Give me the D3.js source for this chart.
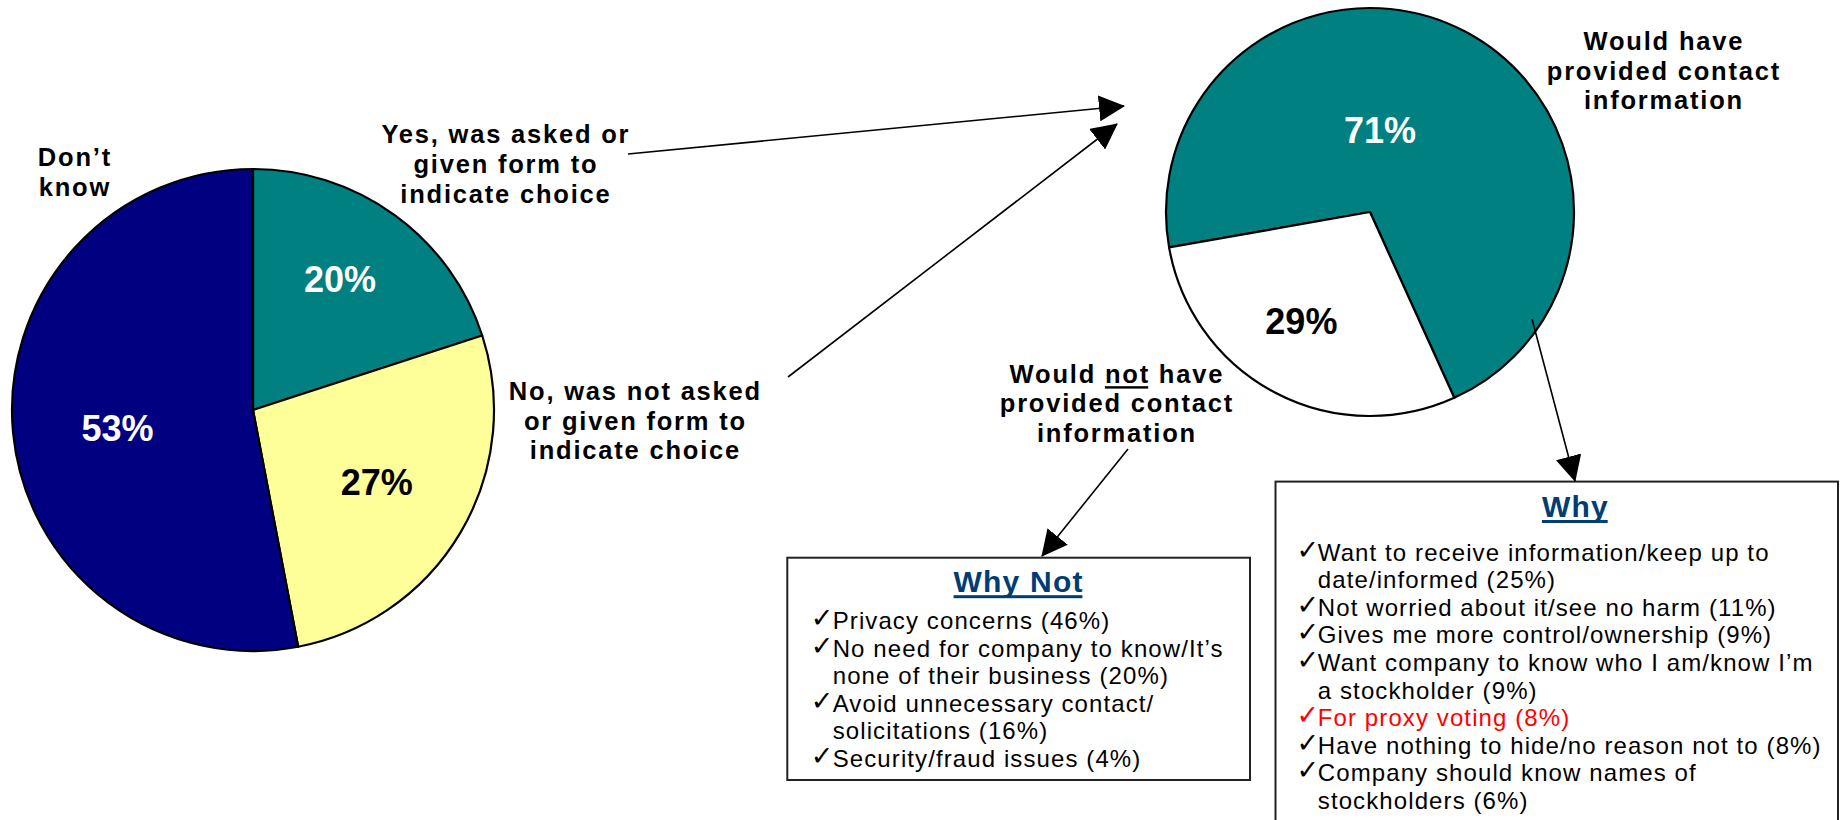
<!DOCTYPE html>
<html>
<head>
<meta charset="utf-8">
<script src="https://cdn.jsdelivr.net/npm/d3@7"></script>
<style>
  html, body { margin: 0; padding: 0; background: #fff; }
  svg { display: block; }
</style>
</head>
<body>
<svg id="chart" width="1845" height="820"></svg>
<script>
// Were shareholders asked (or given a form) to indicate their choice?
const askedCategories = [
  "Yes, was asked or\ngiven form to\nindicate choice",
  "No, was not asked\nor given form to\nindicate choice",
  "Don\u2019t\nknow"
];
const askedValues = [20, 27, 53];
const askedColors = ["#008080", "#FFFF99", "#000080"];
const askedLabelColors = ["#ffffff", "#000000", "#ffffff"];

// Would they have provided contact information?
const provideCategories = [
  "Would have\nprovided contact\ninformation",
  "Would not have\nprovided contact\ninformation"
];
const provideValues = [71, 29];
const provideColors = ["#008080", "#ffffff"];
const provideLabelColors = ["#ffffff", "#000000"];

// Reasons for not providing contact information
const whyNotReasons = [
  "Privacy concerns",
  "No need for company to know/It\u2019s\nnone of their business",
  "Avoid unnecessary contact/\nsolicitations",
  "Security/fraud issues"
];
const whyNotValues = [46, 20, 16, 4];

// Reasons for providing contact information
const whyReasons = [
  "Want to receive information/keep up to\ndate/informed",
  "Not worried about it/see no harm",
  "Gives me more control/ownership",
  "Want company to know who I am/know I\u2019m\na stockholder",
  "For proxy voting",
  "Have nothing to hide/no reason not to",
  "Company should know names of\nstockholders"
];
const whyValues = [25, 11, 9, 9, 8, 8, 6];
const whyHighlight = "For proxy voting";

// ---- layout ----
const FONT = '"Liberation Sans", Arial, Helvetica, sans-serif';
const deg = Math.PI / 180;

const layout = {
  leftPie:  { cx: 253, cy: 410, r: 241, start: 0,
              label: [[0.653, -2.4], [0.594, -0.4], [0.567, -2.1]] },
  rightPie: { cx: 1370, cy: 212, r: 204, start: -100,
              label: [[0.403, -20.8], [0.633, 4.3]] },
  askedLabels: [
    { x: 505, y: 143.3 },
    { x: 634.5, y: 400 },
    { x: 74, y: 166 }
  ],
  provideLabels: [
    { x: 1663, y: 50 },
    { x: 1116, y: 382.7, emphasis: "not" }
  ],
  labelStep: 29.6,
  arrows: [
    [[628, 154], [1124, 106]],
    [[788, 377], [1117, 124]],
    [[1128, 449], [1042, 556]],
    [[1532, 319], [1575, 481]]
  ],
  whyNotBox: { x: 787.3, y: 557.7, w: 462.7, h: 222.3, title: "Why Not",
               titleX: 1018, titleY: 591.7, checkX: 810.7, textX: 832.7,
               firstY: 629, step: 27.55 },
  whyBox:    { x: 1275.5, y: 481.6, w: 562.5, h: 370, title: "Why",
               titleX: 1574.8, titleY: 516.5, checkX: 1296.5, textX: 1317.8,
               firstY: 560.7, step: 27.57 }
};

const svg = d3.select("#chart");
svg.append("rect").attr("width", 1845).attr("height", 820).attr("fill", "#fff");

// ---- pies ----
function drawPie(values, colors, labelColors, cfg) {
  const pie = d3.pie().sort(null).value(d => d)
    .startAngle(cfg.start * deg)
    .endAngle(cfg.start * deg + 2 * Math.PI);
  const arcs = pie(values);
  const arc = d3.arc().innerRadius(0).outerRadius(cfg.r);
  const g = svg.append("g").attr("transform", `translate(${cfg.cx},${cfg.cy})`);

  g.selectAll("path.slice").data(arcs).join("path")
    .attr("class", "slice")
    .attr("d", arc)
    .attr("fill", (d, i) => colors[i])
    .attr("stroke", "#000")
    .attr("stroke-width", 2.2)
    .attr("stroke-linejoin", "round");

  g.selectAll("text.pct").data(arcs).join("text")
    .attr("class", "pct")
    .attr("transform", (d, i) => {
      const [f, off] = cfg.label[i];
      const a = (d.startAngle + d.endAngle) / 2 + off * deg;
      const rr = f * cfg.r;
      return `translate(${rr * Math.sin(a)},${-rr * Math.cos(a)})`;
    })
    .attr("text-anchor", "middle")
    .attr("dy", "0.358em")
    .attr("font-family", FONT)
    .attr("font-size", 36)
    .attr("font-weight", "bold")
    .attr("fill", (d, i) => labelColors[i])
    .text(d => d.data + "%");
}

drawPie(askedValues, askedColors, askedLabelColors, layout.leftPie);
drawPie(provideValues, provideColors, provideLabelColors, layout.rightPie);

// ---- category labels ----
function drawLabel(name, pos) {
  const lines = name.split("\n");
  const t = svg.append("text")
    .attr("font-family", FONT)
    .attr("font-size", 25.5)
    .attr("font-weight", "bold")
    .attr("letter-spacing", 1.8)
    .attr("text-anchor", "middle")
    .attr("fill", "#000");
  lines.forEach((ln, i) => {
    const ts = t.append("tspan")
      .attr("x", pos.x + 0.9)
      .attr("y", pos.y + i * layout.labelStep)
      .text(ln);
    if (pos.emphasis) {
      const idx = ln.indexOf(" " + pos.emphasis + " ");
      if (idx >= 0) {
        const node = ts.node();
        const s = node.getStartPositionOfChar(idx + 1);
        const e = node.getEndPositionOfChar(idx + pos.emphasis.length);
        svg.append("rect")
          .attr("x", s.x).attr("y", pos.y + i * layout.labelStep + 3.5)
          .attr("width", e.x - s.x - 1.8).attr("height", 2.4)
          .attr("fill", "#000");
      }
    }
  });
}
askedCategories.forEach((c, i) => drawLabel(c, layout.askedLabels[i]));
provideCategories.forEach((c, i) => drawLabel(c, layout.provideLabels[i]));

// ---- reason boxes ----
function drawBox(cfg, reasons, values, highlight) {
  svg.append("rect")
    .attr("x", cfg.x).attr("y", cfg.y)
    .attr("width", cfg.w).attr("height", cfg.h)
    .attr("fill", "#fff")
    .attr("stroke", "#222")
    .attr("stroke-width", 2);

  const title = svg.append("text")
    .attr("x", cfg.titleX + 0.6).attr("y", cfg.titleY)
    .attr("text-anchor", "middle")
    .attr("font-family", FONT)
    .attr("font-size", 30)
    .attr("font-weight", "bold")
    .attr("letter-spacing", 1.2)
    .attr("fill", "#003D73")
    .text(cfg.title);
  const bb = title.node().getBBox();
  svg.append("rect")
    .attr("x", bb.x).attr("y", cfg.titleY + 3.5)
    .attr("width", bb.width - 1.2).attr("height", 3)
    .attr("fill", "#003D73");

  let line = 0;
  reasons.forEach((r, i) => {
    const parts = r.split("\n");
    parts[parts.length - 1] += ` (${values[i]}%)`;
    const color = r.replace(/\n/g, " ") === highlight ? "#FF0000" : "#000";
    const y0 = cfg.firstY + line * cfg.step;
    // check-mark bullet
    svg.append("text")
      .attr("x", cfg.checkX)
      .attr("y", y0 - 2)
      .attr("font-family", '"DejaVu Sans", sans-serif')
      .attr("font-size", 27)
      .attr("fill", color)
      .text("\u2713");
    parts.forEach(p => {
      svg.append("text")
        .attr("x", cfg.textX)
        .attr("y", cfg.firstY + line * cfg.step)
        .attr("font-family", FONT)
        .attr("font-size", 24)
        .attr("letter-spacing", 1.1)
        .attr("fill", color)
        .text(p);
      line++;
    });
  });
}
drawBox(layout.whyNotBox, whyNotReasons, whyNotValues, null);
drawBox(layout.whyBox, whyReasons, whyValues, whyHighlight);

// ---- arrows ----
const defs = svg.append("defs");
defs.append("marker")
  .attr("id", "arrowHead")
  .attr("markerUnits", "userSpaceOnUse")
  .attr("markerWidth", 26).attr("markerHeight", 26)
  .attr("viewBox", "0 0 26 26")
  .attr("refX", 25).attr("refY", 13)
  .attr("orient", "auto")
  .append("path")
  .attr("d", "M0,0 L26,13 L0,26 Z")
  .attr("fill", "#000");

svg.selectAll("line.arrow").data(layout.arrows).join("line")
  .attr("class", "arrow")
  .attr("x1", d => d[0][0]).attr("y1", d => d[0][1])
  .attr("x2", d => d[1][0]).attr("y2", d => d[1][1])
  .attr("stroke", "#000")
  .attr("stroke-width", 1.6)
  .attr("marker-end", "url(#arrowHead)");
</script>
</body>
</html>
